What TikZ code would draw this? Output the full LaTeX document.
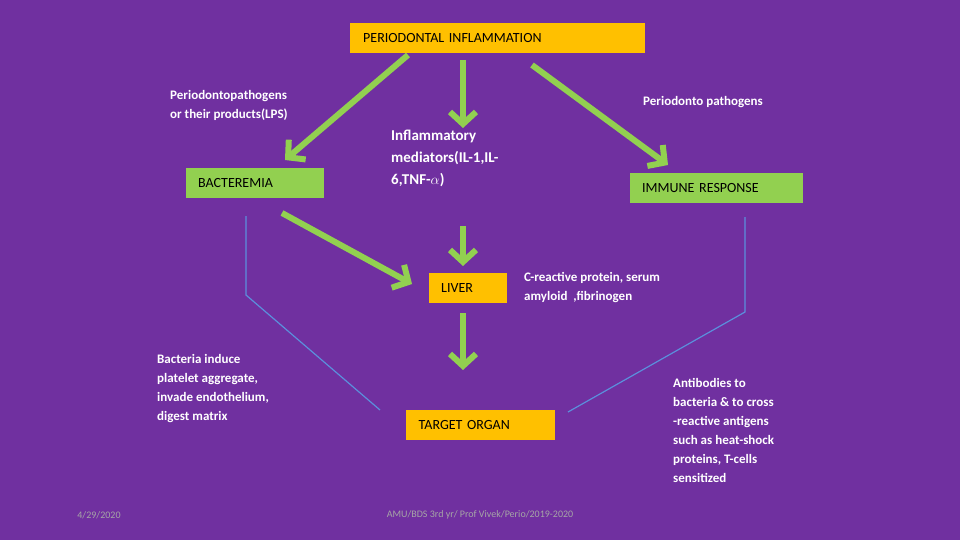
\documentclass[tikz,border=0pt]{standalone}
\usepackage{fontspec}
\setmainfont{Carlito}
\usetikzlibrary{arrows.meta}
\definecolor{bg}{HTML}{7030A0}
\definecolor{gr}{HTML}{92D050}
\definecolor{org}{HTML}{FFC000}
\definecolor{bl}{HTML}{5B8FDC}
\begin{document}
\begin{tikzpicture}[x=1pt,y=-1pt,
 box/.style={draw=none,anchor=north west,minimum height=30pt,inner sep=0pt,text depth=0pt,font=\fontsize{14}{16}\selectfont,text=black},
 lab/.style={anchor=north west,align=left,text=white,font=\bfseries\fontsize{13}{19}\selectfont,inner sep=0pt},
 ga/.style={draw=gr,line width=6pt,-{Straight Barb[length=12pt,width=26pt,line width=6pt]}},
 bline/.style={draw=bl,line width=1.2pt}]
\fill[bg] (0,0) rectangle (960,540);
\useasboundingbox (0,0) rectangle (960,540);
\node[box,fill=org,minimum width=295pt,text width=285pt,align=left] (pi) at (350,23) {\hspace*{8pt}PERIODONTAL INFLAMMATION};
\node[box,fill=gr,minimum width=138pt,text width=130pt,align=left] (bac) at (186,168) {\hspace*{8pt}BACTEREMIA};
\node[box,fill=gr,minimum width=173pt,text width=165pt,align=left] (imm) at (630,173) {\hspace*{8pt}IMMUNE RESPONSE};
\node[box,fill=org,minimum width=78pt,text width=70pt,align=left] (liv) at (429,273) {\hspace*{8pt}LIVER};
\node[box,fill=org,minimum width=149pt,text width=140pt,align=left] (tar) at (406,410) {\hspace*{8pt}TARGET ORGAN};

\node[lab] (l1) at (170,90) {Periodontopathogens\\or their products(LPS)};
\node[lab] (l2) at (643,96) {Periodonto pathogens};
\node[lab,font=\bfseries\fontsize{15}{22}\selectfont] (l3) at (391,130) {Inflammatory\\mediators(IL-1,IL-\\6,TNF-$\alpha$)};
\node[lab] (l4) at (524,272) {C-reactive protein, serum\\amyloid\ \ ,fibrinogen};
\node[lab] (l5) at (157,354) {Bacteria induce\\platelet aggregate,\\invade endothelium,\\digest matrix};
\node[lab] (l6) at (673,378) {Antibodies to\\bacteria \& to cross\\-reactive antigens\\such as heat-shock\\proteins, T-cells\\sensitized};
\node[text=gray!70,font=\fontsize{10}{12}\selectfont] (d) at (99,515) {4/29/2020};
\node[text=gray!70,font=\fontsize{10}{12}\selectfont] (f) at (480,515) {AMU/BDS 3rd yr/ Prof Vivek/Perio/2019-2020};

\coordinate (a1s) at (408,55); \coordinate (a1e) at (285,160);
\coordinate (a2s) at (463,60); \coordinate (a2e) at (463,128);
\coordinate (a3s) at (532,65); \coordinate (a3e) at (668,165);
\coordinate (a4s) at (463,226); \coordinate (a4e) at (463,266);
\coordinate (a5s) at (282,213); \coordinate (a5e) at (412,284);
\coordinate (a6s) at (463,313); \coordinate (a6e) at (463,370);
\draw[ga] (a1s) -- (a1e);
\draw[ga] (a2s) -- (a2e);
\draw[ga] (a3s) -- (a3e);
\draw[ga] (a4s) -- (a4e);
\draw[ga] (a5s) -- (a5e);
\draw[ga] (a6s) -- (a6e);

\coordinate (b1) at (246,216); \coordinate (b2) at (246,295); \coordinate (b3) at (380,410);
\coordinate (c1) at (745,217); \coordinate (c2) at (745,312); \coordinate (c3) at (568,412);
\draw[bline] (b1) -- (b2) -- (b3);
\draw[bline] (c1) -- (c2) -- (c3);
\end{tikzpicture}
\end{document}
